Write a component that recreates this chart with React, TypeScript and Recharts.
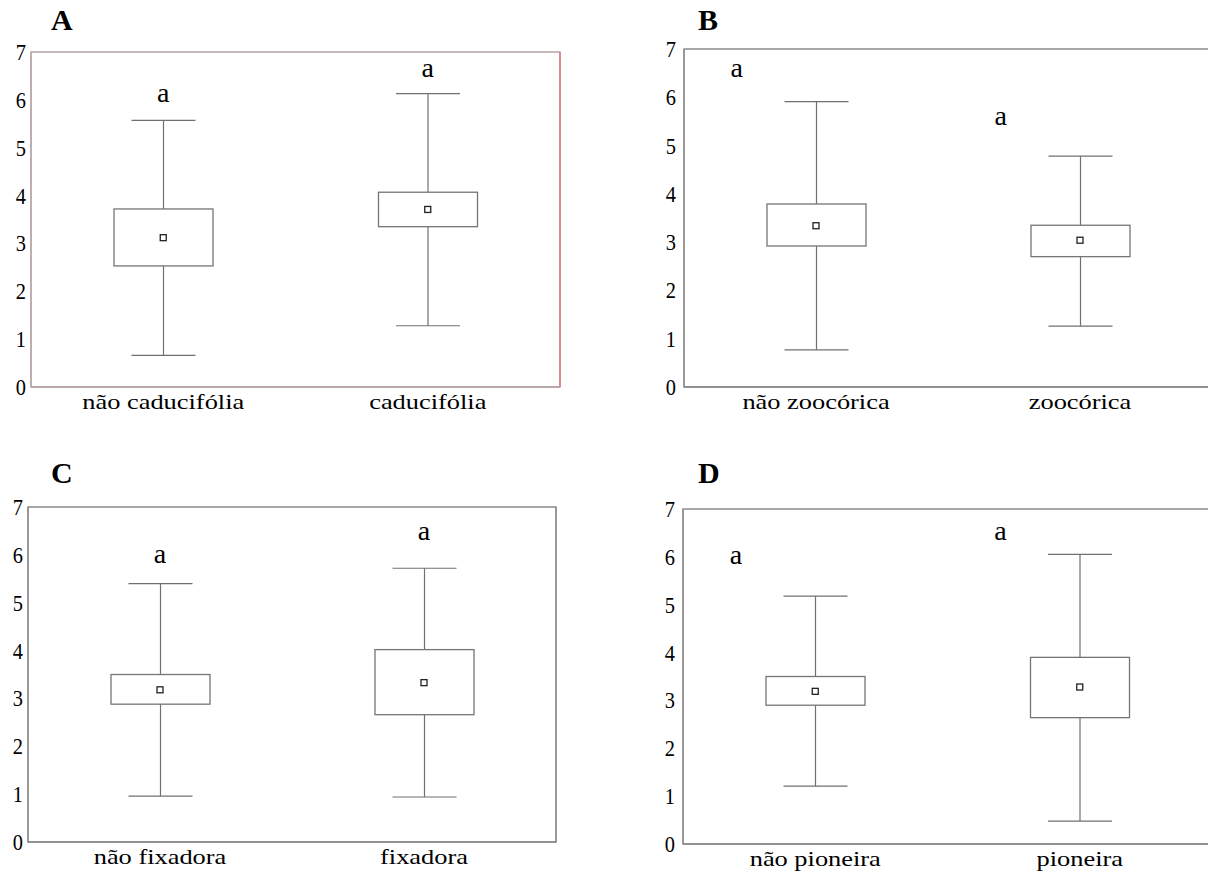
import React from "react";
import {
  Bar,
  ComposedChart,
  Line,
  ReferenceArea,
  ReferenceLine,
  Scatter,
  XAxis,
  YAxis,
} from "recharts";

const serif = "Liberation Serif, Times New Roman, serif";

// y ticks shared by all four panels
const yTicks = [0, 1, 2, 3, 4, 5, 6, 7];

// A - deciduousness
const catsA = ["não caducifólia", "caducifólia"];
const minA = [0.66, 1.28];
const q1A = [2.53, 3.35];
const meanA = [3.12, 3.71];
const q3A = [3.72, 4.07];
const maxA = [5.57, 6.13];
const letterXA = [0.5, 1.5];
const letterYA = [6.1, 6.62];

// B - zoochory
const catsB = ["não zoocórica", "zoocórica"];
const minB = [0.77, 1.26];
const q1B = [2.92, 2.7];
const meanB = [3.34, 3.04];
const q3B = [3.79, 3.35];
const maxB = [5.91, 4.78];
const letterXB = [0.2, 1.2];
const letterYB = [6.56, 5.57];

// C - nitrogen fixing
const catsC = ["não fixadora", "fixadora"];
const minC = [0.96, 0.94];
const q1C = [2.88, 2.66];
const meanC = [3.18, 3.33];
const q3C = [3.5, 4.02];
const maxC = [5.4, 5.72];
const letterXC = [0.5, 1.5];
const letterYC = [5.97, 6.46];

// D - pioneer
const catsD = ["não pioneira", "pioneira"];
const minD = [1.21, 0.48];
const q1D = [2.9, 2.64];
const meanD = [3.19, 3.28];
const q3D = [3.5, 3.9];
const maxD = [5.18, 6.05];
const letterXD = [0.2, 1.2];
const letterYD = [6.0, 6.49];

const letters = ["a", "a"];

const TOP = 20; // room above the plot inside each svg

function Whisker(props: any) {
  const { x, y, width, height } = props;
  const top = Math.min(y, y + height);
  const bottom = Math.max(y, y + height);
  const cx = x + width / 2;
  const cap = 32;
  return (
    <g stroke="#707070" strokeWidth={1.2}>
      <line x1={cx} y1={top} x2={cx} y2={bottom} />
      <line x1={cx - cap} y1={top} x2={cx + cap} y2={top} />
      <line x1={cx - cap} y1={bottom} x2={cx + cap} y2={bottom} />
    </g>
  );
}

function BoxShape(props: any) {
  const { x, y, width, height } = props;
  const top = Math.min(y, y + height);
  return (
    <rect
      x={x}
      y={top}
      width={width}
      height={Math.abs(height)}
      fill="#fff"
      stroke="#757575"
      strokeWidth={1.3}
    />
  );
}

function MeanDot(props: any) {
  const { cx, cy, index } = props;
  return (
    <rect
      key={"m" + index}
      x={cx - 3}
      y={cy - 3}
      width={6}
      height={6}
      fill="#fff"
      stroke="#222"
      strokeWidth={1.3}
    />
  );
}

function Letter(props: any) {
  const { cx, cy, payload } = props;
  return (
    <text
      x={cx}
      y={cy}
      dy={7}
      textAnchor="middle"
      fill="#000"
      fontFamily={serif}
      fontSize={28}
    >
      {payload.txt}
    </text>
  );
}

// category labels are a wide-set Times in the source
function XTick(props: any) {
  const { x, y, payload } = props;
  return (
    <g transform={`translate(${x},${y})`}>
      <text
        transform="scale(1.2,1)"
        y={12}
        textAnchor="middle"
        fill="#000"
        fontFamily={serif}
        fontSize={22}
      >
        {payload.value}
      </text>
    </g>
  );
}

// digits on the value axis are narrow
function YTick(props: any) {
  const { x, y, payload } = props;
  return (
    <g transform={`translate(${x},${y})`}>
      <text
        transform="scale(0.85,1)"
        y={8}
        textAnchor="end"
        fill="#000"
        fontFamily={serif}
        fontSize={24}
      >
        {payload.value}
      </text>
    </g>
  );
}

interface PanelProps {
  cats: string[];
  mins: number[];
  q1s: number[];
  means: number[];
  q3s: number[];
  maxs: number[];
  letterX: number[];
  letterY: number[];
  geo: { L: number; T: number; R: number; B: number };
  frame: string;
  rightFrame: string;
  tickGap: number;
}

function BoxPanel({
  cats,
  mins,
  q1s,
  means,
  q3s,
  maxs,
  letterX,
  letterY,
  geo,
  frame,
  rightFrame,
  tickGap,
}: PanelProps) {
  const data = cats.map((c, i) => ({
    cat: c,
    range: [mins[i], maxs[i]],
    box: [q1s[i], q3s[i]],
    mean: means[i],
  }));
  const marks = letterX.map((lx, i) => ({ lx, ly: letterY[i], txt: letters[i] }));
  const w = geo.R - geo.L + 50;
  const h = geo.B - geo.T + 40 + TOP;

  return (
    <div
      style={{
        position: "absolute",
        left: geo.L - 40,
        top: geo.T - TOP,
        fontFamily: serif,
      }}
    >
      <ComposedChart
        width={w}
        height={h}
        data={data}
        margin={{ top: TOP, right: 10, bottom: 0, left: 0 }}
        barGap={-99}
        style={{ overflow: "visible" }}
      >
        <XAxis xAxisId="n" type="number" dataKey="lx" domain={[0, 2]} height={0} hide />
        <XAxis
          xAxisId="x"
          dataKey="cat"
          type="category"
          height={40}
          interval={0}
          axisLine={{ stroke: frame, strokeWidth: 1.3 }}
          tickLine={false}
          tickSize={6}
          tickMargin={4}
          tick={<XTick />}
        />
        <YAxis
          yAxisId="y"
          domain={[0, 7]}
          ticks={yTicks}
          width={40}
          interval={0}
          axisLine={{ stroke: frame, strokeWidth: 1.3 }}
          tickLine={false}
          tickSize={0}
          tickMargin={tickGap}
          tick={<YTick />}
        />
        <ReferenceArea
          xAxisId="n"
          yAxisId="y"
          x1={0}
          x2={2}
          y1={0}
          y2={7}
          fill="none"
          fillOpacity={0}
          stroke={frame}
          strokeWidth={1.3}
          ifOverflow="visible"
        />
        <ReferenceLine
          xAxisId="n"
          yAxisId="y"
          x={2}
          stroke={rightFrame}
          strokeWidth={1.3}
          ifOverflow="visible"
        />
        <Bar
          xAxisId="x"
          yAxisId="y"
          dataKey="range"
          barSize={99}
          shape={Whisker}
          isAnimationActive={false}
        />
        <Bar
          xAxisId="x"
          yAxisId="y"
          dataKey="box"
          barSize={99}
          shape={BoxShape}
          isAnimationActive={false}
        />
        <Line
          xAxisId="x"
          yAxisId="y"
          dataKey="mean"
          stroke="none"
          dot={MeanDot}
          activeDot={false}
          isAnimationActive={false}
        />
        <Scatter
          xAxisId="n"
          yAxisId="y"
          data={marks}
          dataKey="ly"
          shape={Letter}
          isAnimationActive={false}
        />
      </ComposedChart>
    </div>
  );
}

function PanelTag({ text, left, top }: { text: string; left: number; top: number }) {
  return (
    <div
      style={{
        position: "absolute",
        left,
        top,
        fontFamily: serif,
        fontWeight: "bold",
        fontSize: 30,
        lineHeight: "30px",
      }}
    >
      {text}
    </div>
  );
}

export default function App() {
  return (
    <div
      style={{
        position: "absolute",
        left: 0,
        top: 0,
        width: 1208,
        height: 872,
        overflow: "hidden",
        background: "#fff",
      }}
    >
      <BoxPanel
        cats={catsA}
        mins={minA}
        q1s={q1A}
        means={meanA}
        q3s={q3A}
        maxs={maxA}
        letterX={letterXA}
        letterY={letterYA}
        geo={{ L: 31, T: 52, R: 560, B: 387 }}
        frame="#b5a3a3"
        rightFrame="#e07070"
        tickGap={5}
      />
      <BoxPanel
        cats={catsB}
        mins={minB}
        q1s={q1B}
        means={meanB}
        q3s={q3B}
        maxs={maxB}
        letterX={letterXB}
        letterY={letterYB}
        geo={{ L: 684, T: 49, R: 1212, B: 387 }}
        frame="#8a8a8a"
        rightFrame="#8a8a8a"
        tickGap={8}
      />
      <BoxPanel
        cats={catsC}
        mins={minC}
        q1s={q1C}
        means={meanC}
        q3s={q3C}
        maxs={maxC}
        letterX={letterXC}
        letterY={letterYC}
        geo={{ L: 28, T: 507, R: 556, B: 842 }}
        frame="#8a8a8a"
        rightFrame="#8a8a8a"
        tickGap={5}
      />
      <BoxPanel
        cats={catsD}
        mins={minD}
        q1s={q1D}
        means={meanD}
        q3s={q3D}
        maxs={maxD}
        letterX={letterXD}
        letterY={letterYD}
        geo={{ L: 683, T: 509, R: 1212, B: 844 }}
        frame="#8a8a8a"
        rightFrame="#8a8a8a"
        tickGap={8}
      />
      <PanelTag text="A" left={51} top={5} />
      <PanelTag text="B" left={698} top={5} />
      <PanelTag text="C" left={51} top={458} />
      <PanelTag text="D" left={698} top={458} />
    </div>
  );
}
